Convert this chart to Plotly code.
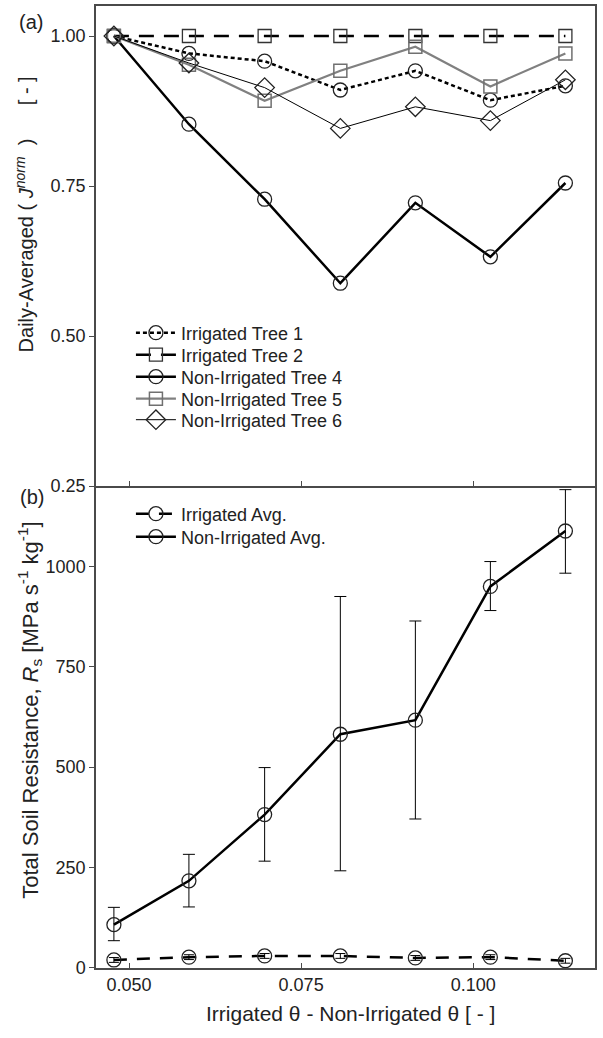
import plotly.graph_objects as go
from plotly.subplots import make_subplots

theta_diff = [0.0478, 0.0587, 0.0697, 0.0807, 0.0916, 0.1025, 0.1134]

irr_tree1 = [1.000, 0.971, 0.958, 0.910, 0.942, 0.893, 0.917]
irr_tree2 = [1.000, 1.000, 1.000, 1.000, 1.000, 1.000, 1.000]
non_tree4 = [1.000, 0.853, 0.728, 0.588, 0.722, 0.632, 0.755]
non_tree5 = [1.000, 0.952, 0.892, 0.942, 0.982, 0.916, 0.971]
non_tree6 = [1.000, 0.955, 0.914, 0.846, 0.882, 0.859, 0.927]

irr_avg = [20, 27, 30, 30, 25, 27, 18]
irr_avg_err = [6, 6, 6, 6, 6, 6, 6]
non_avg = [108, 217, 382, 582, 617, 950, 1088]
non_avg_hi = [151, 283, 499, 925, 864, 1012, 1191]
non_avg_lo = [68, 152, 266, 242, 371, 890, 983]

ya_ticks = [0.25, 0.50, 0.75, 1.00]
yb_ticks = [0, 250, 500, 750, 1000]
x_ticks = [0.050, 0.075, 0.100]

FONT = "Liberation Sans, Arial, sans-serif"
AX = "#4a4a4a"
TXT = "#222"

fig = make_subplots(rows=2, cols=1, shared_xaxes=True, vertical_spacing=0,
                    row_heights=[0.499, 0.501])

fig.add_trace(go.Scatter(x=theta_diff, y=irr_tree1, name="Irrigated Tree 1", mode="lines+markers",
                         line=dict(color="black", width=2.5, dash="4px,3px"),
                         marker=dict(symbol="circle-open", size=14, color="#222", line=dict(width=1.3)),
                         legend="legend", showlegend=True), row=1, col=1)
fig.add_trace(go.Scatter(x=theta_diff, y=irr_tree2, name="Irrigated Tree 2", mode="lines+markers",
                         line=dict(color="black", width=2.5, dash="15px,10px"),
                         marker=dict(symbol="square-open", size=13, color="#333", line=dict(width=1.3)),
                         legend="legend2"), row=1, col=1)
fig.add_trace(go.Scatter(x=theta_diff, y=non_tree4, name="Non-Irrigated Tree 4", mode="lines+markers",
                         line=dict(color="black", width=2.5),
                         marker=dict(symbol="circle-open", size=14, color="#222", line=dict(width=1.3)),
                         legend="legend3"), row=1, col=1)
fig.add_trace(go.Scatter(x=theta_diff, y=non_tree5, name="Non-Irrigated Tree 5", mode="lines+markers",
                         line=dict(color="#808080", width=2.2),
                         marker=dict(symbol="square-open", size=13, color="#707070", line=dict(width=1.5)),
                         legend="legend4"), row=1, col=1)
fig.add_trace(go.Scatter(x=theta_diff, y=non_tree6, name="Non-Irrigated Tree 6", mode="lines+markers",
                         line=dict(color="black", width=1),
                         marker=dict(symbol="diamond-open", size=15, color="#222", line=dict(width=1.3)),
                         legend="legend5"), row=1, col=1)

fig.add_trace(go.Scatter(x=theta_diff, y=irr_avg, name="Irrigated Avg.", mode="lines+markers",
                         line=dict(color="black", width=2.5, dash="13px,10px"),
                         marker=dict(symbol="circle-open", size=14, color="#222", line=dict(width=1.3)),
                         error_y=dict(type="data", array=irr_avg_err, color="black", thickness=1, width=5),
                         legend="legend6"), row=2, col=1)
fig.add_trace(go.Scatter(x=theta_diff, y=non_avg, name="Non-Irrigated Avg.", mode="lines+markers",
                         line=dict(color="black", width=2.5),
                         marker=dict(symbol="circle-open", size=14, color="#222", line=dict(width=1.3)),
                         error_y=dict(type="data", symmetric=False,
                                      array=[h - v for h, v in zip(non_avg_hi, non_avg)],
                                      arrayminus=[v - l for v, l in zip(non_avg, non_avg_lo)],
                                      color="black", thickness=1, width=6),
                         legend="legend7"), row=2, col=1)

axis_common = dict(showgrid=False, zeroline=False, showline=True, linecolor=AX, linewidth=1.5,
                   tickcolor=AX, ticklen=5, tickwidth=1.2, automargin=False,
                   tickfont=dict(family=FONT, size=18, color=TXT))

fig.update_xaxes(**axis_common, range=[0.0452, 0.1177], tickvals=x_ticks, ticks="inside")
fig.update_xaxes(row=1, col=1, showticklabels=False, mirror=True)
fig.update_xaxes(row=2, col=1, tickformat=".3f")

fig.update_yaxes(**axis_common, ticks="outside", mirror=True)
fig.update_yaxes(row=1, col=1, range=[0.25, 1.05], tickvals=ya_ticks, tickformat=".2f")
fig.update_yaxes(row=2, col=1, range=[0, 1200], tickvals=yb_ticks)

leg_font = dict(family=FONT, size=18, color=TXT)
title_font = dict(family=FONT, size=20, color=TXT)

# legend rows (pixel centres) -> paper coordinates
PLOT_TOP, PLOT_BOTTOM = 6, 968
row_centres = [333, 355, 377, 399, 420, 514, 537]
legends = {}
for i, c in enumerate(row_centres):
    key = "legend" if i == 0 else f"legend{i + 1}"
    legends[key] = dict(x=0.07, y=(PLOT_BOTTOM - c) / (PLOT_BOTTOM - PLOT_TOP),
                        xanchor="left", yanchor="middle", font=leg_font,
                        bgcolor="rgba(0,0,0,0)", itemwidth=40)

fig.update_layout(
    width=603, height=1038,
    margin=dict(l=96, r=8, t=6, b=70),
    paper_bgcolor="white", plot_bgcolor="white",
    font=dict(family=FONT, size=18, color=TXT),
    showlegend=True,
    **legends,
    annotations=[
        dict(text="(a)", xref="paper", yref="paper", x=-0.13, y=0.983, xanchor="center", yanchor="middle",
             showarrow=False, font=dict(family=FONT, size=20, color=TXT)),
        dict(text="(b)", xref="paper", yref="paper", x=-0.128, y=0.490, xanchor="center", yanchor="middle",
             showarrow=False, font=dict(family=FONT, size=20, color=TXT)),
        dict(text="Daily-Averaged (&nbsp;<i>J</i><sup><i>norm</i></sup>&nbsp;&nbsp;)&nbsp;&nbsp;&nbsp;&nbsp;&nbsp;&nbsp;[&nbsp;-&nbsp;]",
             xref="paper", yref="paper", x=-0.143, y=0.783, xanchor="center", yanchor="middle",
             textangle=-90, showarrow=False, font=title_font),
        dict(text="Total Soil Resistance, <i>R</i><sub>s</sub> [MPa s<sup>-1</sup> kg<sup>-1</sup>]",
             xref="paper", yref="paper", x=-0.133, y=0.268, xanchor="center", yanchor="middle",
             textangle=-90, showarrow=False, font=dict(family=FONT, size=22, color=TXT)),
        dict(text="Irrigated θ - Non-Irrigated θ [ - ]", xref="paper", yref="paper",
             x=0.51, y=-0.047, xanchor="center", yanchor="middle", showarrow=False,
             font=dict(family=FONT, size=21, color=TXT)),
    ],
)

fig.write_html("out.html", config={"displayModeBar": False},
               post_script="document.body.style.margin='0';document.body.style.overflow='hidden';")
